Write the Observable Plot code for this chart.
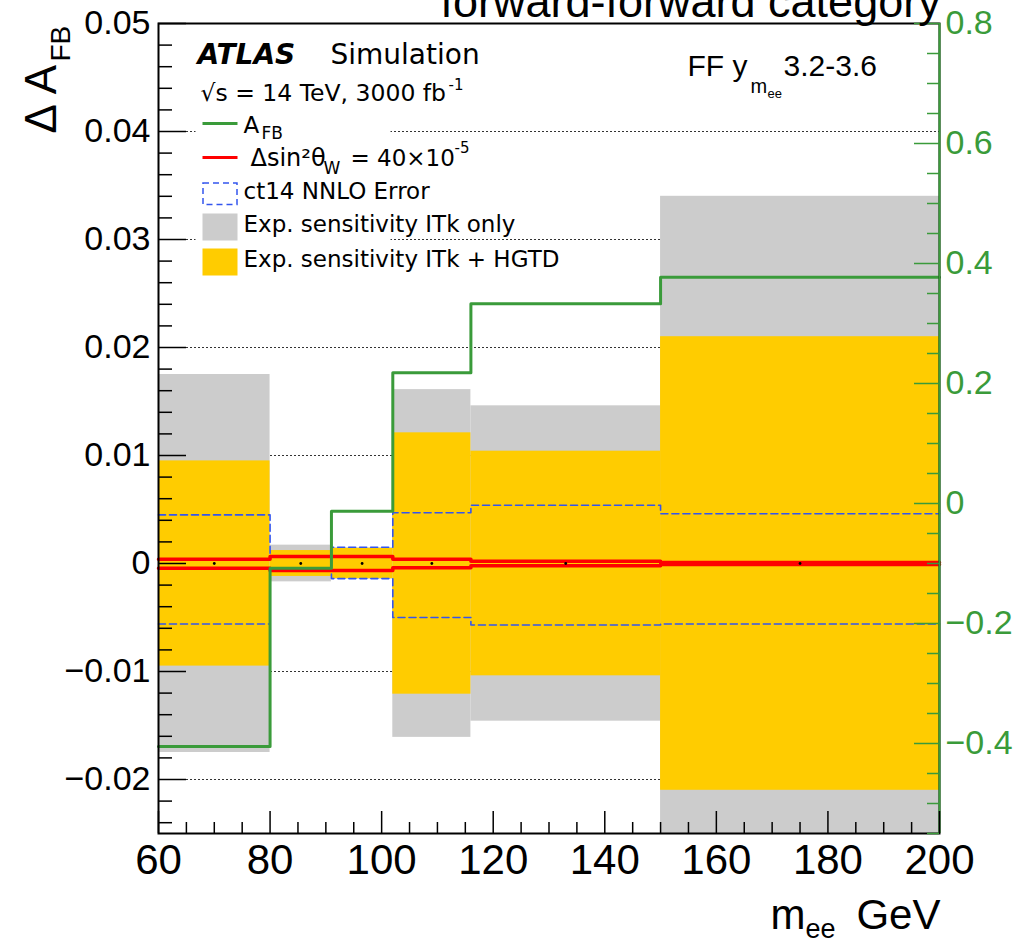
<!DOCTYPE html>
<html><head><meta charset="utf-8">
<script src="https://cdn.jsdelivr.net/npm/d3@7"></script>
<script src="https://cdn.jsdelivr.net/npm/@observablehq/plot@0.6"></script>
<style>body{margin:0;background:#fff}</style>
</head><body><div id="chart"></div>
<script>
// ---- data ----
const binLow  = [60, 80, 91, 102, 116, 150];
const binHigh = [80, 91, 102, 116, 150, 200];
// A_FB (right axis units)
const afb = [-0.405, -0.108, -0.013, 0.218, 0.333, 0.377];
// Exp. sensitivity ITk only (± half width, left axis)
const itkOnly = [0.0175, 0.0017, 0.00145, 0.0161, 0.0146, 0.034];
// Exp. sensitivity ITk + HGTD
const itkHgtd = [0.0095, 0.0012, 0.0014, 0.0121, 0.0104, 0.021];
// ct14 NNLO error band
const ct14Up = [0.0045, 0.0006, 0.0015, 0.0047, 0.0054, 0.0046];
const ct14Dn = [-0.0056, -0.0006, -0.0014, -0.0050, -0.0057, -0.0056];
// Δsin²θW = 40e-5 band
const sinUp = [0.0004, 0.00065, 0.00065, 0.0004, 0.0002, 0.0001];
const sinDn = [-0.00045, -0.00065, -0.00065, -0.0004, -0.0002, -0.0001];

const xMajor = [60, 80, 100, 120, 140, 160, 180, 200];
const yLeftMajor = [0.05, 0.04, 0.03, 0.02, 0.01, 0, -0.01, -0.02];
const yRightMajor = [0.8, 0.6, 0.4, 0.2, 0, -0.2, -0.4];
const gridY = [0.04, 0.03, 0.02, 0.01, 0, -0.01, -0.02];

// ---- layout ----
const W = 1033, H = 942, ML = 158, MR = 94, MT = 23, MB = 109;
const PW = W - ML - MR, PH = H - MT - MB;
const yDom = [-0.025, 0.05], rDom = [-0.55, 0.8];
const toLeft = r => yDom[0] + (r - rDom[0]) / (rDom[1] - rDom[0]) * (yDom[1] - yDom[0]);
const toRight = v => rDom[0] + (v - yDom[0]) / (yDom[1] - yDom[0]) * (rDom[1] - rDom[0]);

const GREEN = "#3a9b3a", RED = "#ff0000", BLUE = "#3355ee", GRAY = "#cccccc", YELLOW = "#ffcc00";
const LEG = "'DejaVu Sans', sans-serif";

const bins = binLow.map((lo, i) => ({
  lo, hi: binHigh[i], c: (lo + binHigh[i]) / 2,
  g: itkOnly[i], yv: itkHgtd[i]
}));
const step = vals => [...binLow.map((x, i) => ({x, y: vals[i]})),
  {x: binHigh[binHigh.length - 1], y: vals[vals.length - 1]}];

const leftMinor = d3.range(-24, 51, 2).map(d => d / 1000).filter(d => !yLeftMajor.some(m => Math.abs(m - d) < 1e-9));
const xMinor = d3.range(60, 201, 5).filter(d => !xMajor.includes(d));
const rightMinor = d3.range(-55, 81, 5).map(d => d / 100).filter(d => !yRightMajor.some(m => Math.abs(m - d) < 1e-9));

const fmtL = d => d === 0 ? "0" : (d < 0 ? "\u2212" : "") + Math.abs(d).toFixed(2);
const fmtR = v => { const r = Math.round(toRight(v) * 10) / 10; return Math.abs(r) < 1e-9 ? "0" : (r < 0 ? "\u2212" : "") + Math.abs(r).toFixed(1); };

// pixel-placed text and boxes (annotations / legend)
const txt = (s, x, y, o = {}) => Plot.text([s], {text: d => d, frameAnchor: "top-left",
  dx: x - ML, dy: y - MT, lineAnchor: "bottom", textAnchor: "start", fill: "black", ...o});
const box = (x0, y0, x1, y1, o = {}) => Plot.frame({insetLeft: x0 - ML, insetRight: W - MR - x1,
  insetTop: y0 - MT, insetBottom: H - MB - y1, stroke: null, ...o});

const chart = Plot.plot({
  width: W, height: H,
  marginLeft: ML, marginRight: MR, marginTop: MT, marginBottom: MB,
  style: {fontFamily: "'Liberation Sans', Arial, sans-serif", background: "white"},
  x: {domain: [60, 200], axis: null},
  y: {domain: yDom, axis: null, clamp: true},
  marks: [
    // dotted grid
    Plot.ruleY(gridY, {y: d => d, stroke: "black", strokeWidth: 1, strokeDasharray: "2,2", strokeOpacity: 0.8}),
    // legend background
    box(195, 40, 390, 280, {fill: "white"}),
    // bands
    Plot.rect(bins, {x1: "lo", x2: "hi", y1: d => -d.g, y2: d => d.g, fill: GRAY}),
    Plot.rect(bins, {x1: "lo", x2: "hi", y1: d => -d.yv, y2: d => d.yv, fill: YELLOW}),
    // ct14 error
    Plot.line(step(ct14Up), {x: "x", y: "y", curve: "step-after", stroke: BLUE, strokeWidth: 1.6, strokeDasharray: "7,4"}),
    Plot.line(step(ct14Dn), {x: "x", y: "y", curve: "step-after", stroke: BLUE, strokeWidth: 1.6, strokeDasharray: "7,4"}),
    // sin2theta band
    Plot.line(step(sinUp), {x: "x", y: "y", curve: "step-after", stroke: RED, strokeWidth: 3.5}),
    Plot.line(step(sinDn), {x: "x", y: "y", curve: "step-after", stroke: RED, strokeWidth: 3.5}),
    Plot.dot(bins, {x: "c", y: () => 0, r: 1.4, fill: "black", stroke: null}),
    // A_FB (right axis)
    Plot.line(step(afb.map(toLeft)), {x: "x", y: "y", curve: "step-after", stroke: GREEN, strokeWidth: 3}),
    // frame
    Plot.frame({stroke: "black", strokeWidth: 2}),
    Plot.ruleX([200], {x: d => d, stroke: GREEN, strokeWidth: 2}),
    // ticks
    Plot.tickY(yLeftMajor, {y: d => d, insetRight: PW - 28, stroke: "black", strokeWidth: 1.5}),
    Plot.tickY(leftMinor, {y: d => d, insetRight: PW - 14, stroke: "black", strokeWidth: 1.5}),
    Plot.tickX(xMajor, {x: d => d, insetTop: PH - 22, stroke: "black", strokeWidth: 1.5}),
    Plot.tickX(xMinor, {x: d => d, insetTop: PH - 11, stroke: "black", strokeWidth: 1.5}),
    Plot.tickY(yRightMajor.map(toLeft), {y: d => d, insetLeft: PW - 25, stroke: GREEN, strokeWidth: 1.5}),
    Plot.tickY(rightMinor.map(toLeft), {y: d => d, insetLeft: PW - 12, stroke: GREEN, strokeWidth: 1.5}),
    // axes labels
    Plot.axisY(yLeftMajor, {anchor: "left", tickSize: 0, tickPadding: 8, fontSize: 34, tickFormat: fmtL, label: null}),
    Plot.axisY(yRightMajor.map(toLeft), {anchor: "right", tickSize: 0, tickPadding: 6, fontSize: 34, fill: GREEN, tickFormat: fmtR, label: null}),
    Plot.axisX(xMajor, {anchor: "bottom", tickSize: 0, tickPadding: 11, fontSize: 42, tickFormat: d => String(d), label: null}),
    // axis titles
    txt("\u0394 A", 55, 133, {rotate: -90, textAnchor: "start", fontSize: 44}),
    txt("FB", 69, 61, {rotate: -90, textAnchor: "start", fontSize: 28}),
    txt("m", 770, 928, {fontSize: 42}),
    txt("ee", 805, 937, {fontSize: 27}),
    txt("GeV", 940, 928, {fontSize: 42, textAnchor: "end"}),
    // title (cut at top, as in the reference)
    txt("forward-forward category", 440, 16, {fontSize: 45}),
    // FF label
    txt("FF y", 687, 75, {fontSize: 30}),
    txt("m", 750, 92, {fontSize: 20}),
    txt("ee", 767, 97, {fontSize: 13}),
    txt("3.2-3.6", 783, 75, {fontSize: 30}),
    // legend
    txt("ATLAS", 197, 63, {fontSize: 28, fontWeight: "bold", fontStyle: "italic", fontFamily: LEG}),
    txt("Simulation", 330, 63, {fontSize: 28, fontFamily: LEG}),
    txt("\u221As = 14 TeV, 3000 fb", 200, 100, {fontSize: 23.5, fontFamily: LEG}),
    txt("-1", 448, 89, {fontSize: 15, fontFamily: LEG}),
    box(202, 121.5, 237, 124.5, {fill: GREEN}),
    txt("A", 243, 132, {fontSize: 23, fontFamily: LEG}),
    txt("FB", 261, 138, {fontSize: 17, fontFamily: LEG}),
    box(202, 155.5, 237, 158.5, {fill: RED}),
    txt("\u0394sin\u00B2\u03B8", 250, 165, {fontSize: 24, fontFamily: LEG}),
    txt("W", 323, 173, {fontSize: 17, fontFamily: LEG}),
    txt("= 40\u00D710", 350, 165, {fontSize: 23, fontFamily: LEG}),
    txt("-5", 454, 152, {fontSize: 15, fontFamily: LEG}),
    box(202.5, 182.5, 236.5, 204, {fill: "none", stroke: BLUE, strokeWidth: 1.5, strokeDasharray: "6,4"}),
    txt("ct14 NNLO Error", 243, 198, {fontSize: 23, fontFamily: LEG}),
    box(202, 213, 237, 240, {fill: GRAY}),
    txt("Exp. sensitivity ITk only", 243, 231, {fontSize: 23, fontFamily: LEG}),
    box(202, 248, 237, 275, {fill: YELLOW}),
    txt("Exp. sensitivity ITk + HGTD", 243, 266, {fontSize: 23, fontFamily: LEG})
  ]
});
document.getElementById("chart").appendChild(chart);
</script>
</body></html>
